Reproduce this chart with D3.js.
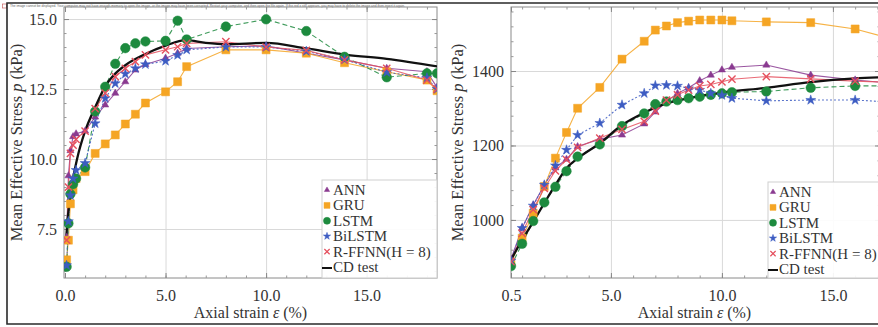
<!DOCTYPE html>
<html>
<head>
<meta charset="utf-8">
<script src="https://cdn.jsdelivr.net/npm/d3@7"></script>
<style>
  body { margin: 0; background: #fff; }
  svg { display: block; }
</style>
</head>
<body>
<div id="chart"></div>
<script>
// ---- data ----
const seriesNames = ["ANN", "GRU", "LSTM", "BiLSTM", "R-FFNN(H = 8)"];
const testName = "CD test";

// left panel (kPa ~ 6..15)
const leftStrain = [0.08, 0.17, 0.27, 0.4, 0.55, 1.0, 1.5, 2.0, 2.5, 3.0, 3.5, 4.0, 5.0, 5.6, 6.05, 8.0, 10.0, 12.0, 13.9, 16.0, 18.0, 18.5];
const leftANN    = [7.2, 9.4, 10.3, 10.8, 10.9, 11.0, 11.5, 11.93, 12.35, 12.76, 13.18, 13.38, 13.6, 13.78, 13.95, 14.01, 14.04, 13.78, 13.54, 13.24, 13.12, 12.56];
const leftGRU    = [6.4, 7.1, 8.4, 8.9, 9.3, 9.55, 10.2, 10.54, 10.86, 11.25, 11.6, 12.0, 12.4, 12.76, 13.3, 13.9, 13.9, 13.78, 13.44, 13.12, 12.82, 12.44];
const leftLSTM   = [6.15, 7.7, 8.75, 9.1, 9.3, 9.7, 11.7, 12.58, 13.4, 13.96, 14.13, 14.2, 14.22, 14.94, 14.27, 14.73, 14.99, 14.57, 13.65, 12.92, 13.06, 13.06];
const leftBiLSTM = [6.2, 7.77, 8.7, 9.3, 9.6, 9.85, 11.27, 12.17, 12.7, 13.04, 13.24, 13.38, 13.5, 13.71, 13.9, 14.0, 14.0, 13.85, 13.55, 13.1, 12.9, 12.5];
const leftRFFNN  = [7.1, 9.0, 10.2, 10.5, 10.7, 11.0, 11.8, 12.35, 12.94, 13.24, 13.48, 13.72, 13.9, 14.01, 14.13, 14.19, 14.0, 13.88, 13.54, 13.24, 12.82, 12.5];
const leftTestStrain = [0.05, 0.15, 0.33, 0.6, 1.0, 1.5, 2.0, 2.5, 3.0, 4.0, 5.0, 6.0, 7.0, 8.0, 10.0, 12.0, 14.0, 16.0, 18.6];
const leftTest       = [7.1, 8.0, 9.0, 10.0, 11.0, 11.85, 12.6, 13.05, 13.35, 13.75, 14.05, 14.25, 14.15, 14.1, 14.15, 13.95, 13.72, 13.58, 13.3];
const leftXTicks = [0, 5, 10, 15];
const leftYTicks = [7.5, 10, 12.5, 15];

// right panel (kPa ~ 850..1550)
const rightStrain = [0.5, 1.0, 1.5, 2.0, 2.5, 3.0, 3.5, 4.5, 5.5, 6.5, 7.0, 7.5, 8.0, 8.5, 9.0, 9.5, 10.0, 10.45, 12.0, 14.0, 16.0, 17.5];
const rightANN    = [895, 978, 1040, 1094, 1140, 1163, 1197, 1217, 1228, 1258, 1290, 1318, 1340, 1355, 1374, 1389, 1403, 1410, 1416, 1389, 1376, 1368];
const rightGRU    = [885, 951, 1018, 1090, 1166, 1235, 1300, 1356, 1432, 1480, 1510, 1521, 1530, 1534, 1537, 1537, 1537, 1535, 1532, 1530, 1513, 1489];
const rightLSTM   = [876, 936, 997, 1047, 1089, 1131, 1170, 1203, 1252, 1286, 1311, 1318, 1322, 1327, 1331, 1336, 1340, 1343, 1345, 1355, 1360, 1360];
const rightBiLSTM = [890, 978, 1038, 1094, 1146, 1188, 1228, 1260, 1309, 1340, 1361, 1362, 1360, 1353, 1349, 1340, 1335, 1327, 1320, 1322, 1322, 1317];
const rightRFFNN  = [888, 964, 1028, 1085, 1132, 1162, 1195, 1220, 1243, 1265, 1292, 1322, 1336, 1349, 1360, 1364, 1371, 1378, 1385, 1379, 1373, 1370];
const rightTestStrain = [0.5, 1.0, 1.5, 2.0, 2.5, 3.0, 3.5, 4.5, 5.5, 6.5, 7.5, 8.5, 10.0, 12.0, 14.0, 16.0, 17.5];
const rightTest       = [893, 946, 995, 1045, 1094, 1139, 1165, 1206, 1255, 1288, 1313, 1327, 1342, 1355, 1370, 1380, 1384];
const rightXTicks = [0.5, 5, 10, 15];
const rightYTicks = [1000, 1200, 1400];

// ---- look ----
const serif = "'Liberation Serif', Tinos, 'Times New Roman', 'DejaVu Serif', serif";
const styles = [
  {color: "#8a3a90", dash: null,  symbol: d3.symbolTriangle, size: 22, fill: true},
  {color: "#f5a524", dash: null,  symbol: d3.symbolSquare,   size: 64, fill: true},
  {color: "#1d8a3e", dash: "5,3", symbol: d3.symbolCircle,   size: 72, fill: true},
  {color: "#3d5cc2", dash: "2,2", symbol: d3.symbolStar,     size: 30, fill: true},
  {color: "#e5505e", dash: null,  symbol: d3.symbolTimes,    size: 36, fill: false}
];

const W = 878, H = 327;
const svg = d3.select("#chart").append("svg").attr("width", W).attr("height", H)
  .attr("font-family", serif);

// broken image notice strip at the top
svg.append("rect").attr("x", 2.5).attr("y", 4).attr("width", 4).attr("height", 4)
  .attr("fill", "#fff").attr("stroke", "#c66").attr("stroke-width", 0.7);
svg.append("text").attr("class", "notice").attr("x", 10).attr("y", 7.2)
  .attr("textLength", 395).attr("lengthAdjust", "spacingAndGlyphs")
  .style("font-size", "3.4px").style("fill", "#666")
  .text("The image cannot be displayed. Your computer may not have enough memory to open the image, or the image may have been corrupted. Restart your computer, and then open the file again. If the red x still appears, you may have to delete the image and then insert it again.");

// outer frame
svg.append("path").attr("d", "M880,3H7V324H880")
  .attr("fill", "none").attr("stroke", "#2a2a2a").attr("stroke-width", 1.6);

function drawPanel(p) {
  const g = svg.append("g");
  const x = d3.scaleLinear().domain(p.xDomain).range([p.left, p.right]);
  const y = d3.scaleLinear().domain(p.yDomain).range([p.bottom, p.top]);
  const w = p.right - p.left, h = p.bottom - p.top;

  const clipId = "clip" + p.id;
  svg.append("clipPath").attr("id", clipId).append("rect")
    .attr("x", p.left).attr("y", p.top).attr("width", w).attr("height", h);

  // grid
  g.append("g").attr("transform", `translate(0,${p.bottom})`)
    .call(d3.axisBottom(x).tickValues(p.xGrid).tickSize(-h).tickFormat(""))
    .call(s => s.select(".domain").remove())
    .call(s => s.selectAll("line").attr("stroke", "#d9d9d9"));
  g.append("g").attr("transform", `translate(${p.left},0)`)
    .call(d3.axisLeft(y).tickValues(p.yTicks).tickSize(-w).tickFormat(""))
    .call(s => s.select(".domain").remove())
    .call(s => s.selectAll("line").attr("stroke", "#d9d9d9"));

  // frame
  g.append("rect").attr("x", p.left).attr("y", p.top).attr("width", w).attr("height", h)
    .attr("fill", "none").attr("stroke", "#8a8a8a").attr("stroke-width", 1);

  // frame ticks, pointing inward, on all sides
  const minorX = d3.range(p.xMinor[0], p.xMinor[1] + 1e-9, p.xMinor[2]);
  const minorY = d3.range(p.yMinor[0], p.yMinor[1] + 1e-9, p.yMinor[2]);
  const tickAxes = [
    [d3.axisBottom(x), `translate(0,${p.bottom})`, p.xTicks, minorX],
    [d3.axisTop(x), `translate(0,${p.top})`, p.xTicks, minorX],
    [d3.axisLeft(y), `translate(${p.left},0)`, p.yTicks, minorY],
    [d3.axisRight(y), `translate(${p.right},0)`, p.yTicks, minorY]
  ];
  tickAxes.forEach(([ax, tr, major, minor]) => {
    g.append("g").attr("transform", tr)
      .call(ax.tickValues(minor).tickSize(-2.5).tickFormat(""))
      .call(s => s.select(".domain").remove())
      .call(s => s.selectAll("line").attr("stroke", "#999"));
    g.append("g").attr("transform", tr)
      .call(ax.tickValues(major).tickSize(-5).tickFormat(""))
      .call(s => s.select(".domain").remove())
      .call(s => s.selectAll("line").attr("stroke", "#888"));
  });

  // tick labels
  g.append("g").attr("transform", `translate(0,${p.bottom})`)
    .call(d3.axisBottom(x).tickValues(p.xTicks).tickSize(0).tickPadding(12).tickFormat(d3.format(".1f")))
    .call(s => s.select(".domain").remove())
    .call(s => s.selectAll("text").style("font-size", "16px").style("fill", "#333"));
  g.append("g").attr("transform", `translate(${p.left},0)`)
    .call(d3.axisLeft(y).tickValues(p.yTicks).tickSize(0).tickPadding(7).tickFormat(p.yFormat))
    .call(s => s.select(".domain").remove())
    .call(s => s.selectAll("text").style("font-size", "16px").style("fill", "#333"));

  // axis titles
  const xt = g.append("text").attr("x", (p.left + Math.min(p.right, W)) / 2).attr("y", 318)
    .attr("text-anchor", "middle").style("font-size", "16px").style("fill", "#333");
  xt.append("tspan").text("Axial strain ");
  xt.append("tspan").style("font-style", "italic").text("ε");
  xt.append("tspan").text(" (%)");
  const yt = g.append("text")
    .attr("transform", `translate(${p.yTitleX},${(p.top + p.bottom) / 2}) rotate(-90)`)
    .attr("text-anchor", "middle").style("font-size", "16.5px").style("fill", "#333");
  yt.append("tspan").text("Mean Effective Stress ");
  yt.append("tspan").style("font-style", "italic").text("p");
  yt.append("tspan").text(" (kPa)");

  // curves
  const plot = g.append("g").attr("clip-path", `url(#${clipId})`);
  const line = d3.line().x(d => x(d[0])).y(d => y(d[1]));
  p.series.forEach((vals, i) => {
    const st = styles[i];
    const pts = p.strain.map((s, j) => [s, vals[j]]);
    plot.append("path").datum(pts).attr("d", line)
      .attr("fill", "none").attr("stroke", st.color).attr("stroke-width", 1.1)
      .attr("stroke-opacity", 0.85).attr("stroke-dasharray", st.dash);
  });
  const testPts = p.testStrain.map((s, j) => [s, p.test[j]]);
  plot.append("path").datum(testPts)
    .attr("d", d3.line().x(d => x(d[0])).y(d => y(d[1])).curve(d3.curveMonotoneX))
    .attr("fill", "none").attr("stroke", "#111").attr("stroke-width", 2.3);
  p.series.forEach((vals, i) => {
    const st = styles[i];
    const sym = d3.symbol().type(st.symbol).size(st.size);
    plot.append("g").selectAll("path")
      .data(p.strain.map((s, j) => [s, vals[j]]))
      .join("path")
      .attr("transform", d => `translate(${x(d[0])},${y(d[1])})`)
      .attr("d", sym)
      .attr("fill", st.fill ? st.color : "none")
      .attr("stroke", st.color).attr("stroke-width", st.fill ? 0.5 : 1.4);
  });

  // legend (box clipped to the plot area like the original)
  const lg = g.append("g").attr("transform", `translate(${p.legendX},${p.legendY})`);
  lg.append("rect").attr("x", 0).attr("y", 0)
    .attr("width", Math.min(140, p.right - p.legendX)).attr("height", p.bottom - p.legendY)
    .attr("fill", "#fff").attr("fill-opacity", 0.92).attr("stroke", "#cfcfcf").attr("stroke-width", 1);
  const names = seriesNames.concat([testName]);
  names.forEach((n, i) => {
    const cy = 10 + i * 15.4;
    if (i < styles.length) {
      const st = styles[i];
      lg.append("path").attr("transform", `translate(5,${cy})`)
        .attr("d", d3.symbol().type(st.symbol).size(st.size * 0.55))
        .attr("fill", st.fill ? st.color : "none")
        .attr("stroke", st.color).attr("stroke-width", st.fill ? 0.5 : 1.2);
    } else {
      lg.append("line").attr("x1", 0).attr("x2", 10).attr("y1", cy + 1).attr("y2", cy + 1)
        .attr("stroke", "#111").attr("stroke-width", 2);
    }
    lg.append("text").attr("x", 11).attr("y", cy + 5).style("font-size", "15px")
      .style("fill", "#333").text(n);
  });
}

drawPanel({
  id: "L", left: 64, right: 437, top: 7, bottom: 278,
  xDomain: [-0.05, 18.5], yDomain: [5.75, 15.43],
  xTicks: leftXTicks, xGrid: [5, 10, 15], yTicks: leftYTicks,
  xMinor: [0, 18, 1], yMinor: [6, 15, 0.5],
  yFormat: d3.format(".1f"), yTitleX: 22,
  strain: leftStrain, series: [leftANN, leftGRU, leftLSTM, leftBiLSTM, leftRFFNN],
  testStrain: leftTestStrain, test: leftTest,
  legendX: 322, legendY: 180
});

drawPanel({
  id: "R", left: 511, right: 880, top: 7, bottom: 278,
  xDomain: [0.5, 17.12], yDomain: [844, 1572],
  xTicks: rightXTicks, xGrid: [5, 10, 15], yTicks: rightYTicks,
  xMinor: [1, 17, 1], yMinor: [880, 1560, 40],
  yFormat: d3.format("d"), yTitleX: 463,
  strain: rightStrain, series: [rightANN, rightGRU, rightLSTM, rightBiLSTM, rightRFFNN],
  testStrain: rightTestStrain, test: rightTest,
  legendX: 768, legendY: 182
});

// force the serif face on every label (axis groups carry their own font attribute)
svg.selectAll("text").style("font-family", serif);
svg.selectAll("text.notice").style("font-family", "'Liberation Sans', Arial, sans-serif");
</script>
</body>
</html>
